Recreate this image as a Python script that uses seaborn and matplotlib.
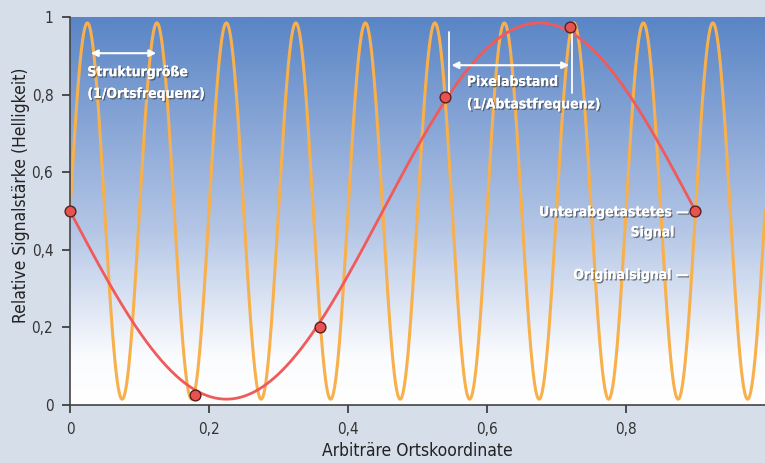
import numpy as np
import matplotlib
matplotlib.use("Agg")
import matplotlib.pyplot as plt
import matplotlib.patheffects as pe
from matplotlib.colors import LinearSegmentedColormap
import seaborn as sns

# Originalsignal: Sinus, 10 Perioden pro Einheit
signal_freq = 10.0
signal_mid = 0.5
signal_amp = 0.485

# Abtastpunkte (Unterabgetastetes Signal)
sample_x = [0.0, 0.18, 0.36, 0.54, 0.72, 0.90]
sample_y = [0.50, 0.025, 0.20, 0.795, 0.975, 0.50]

x_ticks = [0, 0.2, 0.4, 0.6, 0.8]
x_ticklabels = ["0", "0,2", "0,4", "0,6", "0,8"]
y_ticks = [0, 0.2, 0.4, 0.6, 0.8, 1]
y_ticklabels = ["0", "0,2", "0,4", "0,6", "0,8", "1"]

sns.set_style("ticks")
plt.rcParams["font.family"] = ["DejaVu Sans"]
plt.rcParams["font.stretch"] = "condensed"

bg = "#d6dee9"
fig = plt.figure(figsize=(7.65, 4.63), dpi=100, facecolor=bg)
ax = fig.add_axes([0.0915, 0.1253, 0.9085, 0.8377])
ax.set_facecolor("white")

# Hintergrundverlauf blau -> weiss
cmap = LinearSegmentedColormap.from_list("bg", [(0, "#ffffff"), (0.12, "#fbfcfe"), (0.45, "#b4c6e6"), (1.0, "#5a85c6")])
grad = np.linspace(0, 1, 256).reshape(-1, 1)
ax.imshow(grad, extent=[0, 1, 0, 1], origin="lower", aspect="auto", cmap=cmap, zorder=0)

# Originalsignal
xs = np.linspace(0, 1, 2000)
ys = signal_mid + signal_amp * np.sin(2 * np.pi * signal_freq * xs)
sns.lineplot(x=xs, y=ys, ax=ax, color="#f7b04c", lw=2.2, zorder=2)

# Alias-Signal durch die Abtastpunkte
step = sample_x[1] - sample_x[0]
alias_freq = abs(signal_freq - round(signal_freq * step) / step)
xr = np.linspace(sample_x[0], sample_x[-1], 500)
yr = signal_mid - signal_amp * np.sin(2 * np.pi * alias_freq * xr)
sns.lineplot(x=xr, y=yr, ax=ax, color="#f05a5a", lw=2.0, zorder=3)
sns.scatterplot(x=sample_x, y=sample_y, ax=ax, color="#e8524f", edgecolor="#5a2020",
                linewidth=1.0, s=60, zorder=4, clip_on=False)

ax.set_xlim(0, 1)
ax.set_ylim(0, 1)
ax.set_xticks(x_ticks)
ax.set_xticklabels(x_ticklabels)
ax.set_yticks(y_ticks)
ax.set_yticklabels(y_ticklabels)
ax.tick_params(colors="#333333", labelsize=11, length=6, width=1.2, pad=6)
for s in ["top", "right"]:
    ax.spines[s].set_visible(False)
for s in ["left", "bottom"]:
    ax.spines[s].set_color("#444444")
    ax.spines[s].set_linewidth(1.2)

ax.set_xlabel("Arbiträre Ortskoordinate", fontsize=12.5, color="#222222")
ax.set_ylabel("Relative Signalstärke (Helligkeit)", fontsize=12.5, color="#222222")
ax.xaxis.set_label_coords(0.5, -0.095)
ax.yaxis.set_label_coords(-0.057, 0.54)

shadow = [pe.withSimplePatchShadow(offset=(1, -1), shadow_rgbFace="#333333", alpha=0.6), pe.Normal()]
txt = dict(color="white", fontsize=10, fontweight="semibold", path_effects=shadow)

# Strukturgroesse
ax.annotate("", xy=(0.026, 0.907), xytext=(0.128, 0.907),
            arrowprops=dict(arrowstyle="<|-|>", color="white", lw=1.5, mutation_scale=10))
ax.text(0.025, 0.858, "Strukturgröße", ha="left", va="center", **txt)
ax.text(0.025, 0.802, "(1/Ortsfrequenz)", ha="left", va="center", **txt)

# Pixelabstand
ax.plot([0.545, 0.545], [0.804, 0.961], color="white", lw=1.3, zorder=3)
ax.plot([0.722, 0.722], [0.804, 0.961], color="white", lw=1.3, zorder=3)
ax.annotate("", xy=(0.545, 0.876), xytext=(0.722, 0.876),
            arrowprops=dict(arrowstyle="<|-|>", color="white", lw=1.5, mutation_scale=10))
ax.text(0.571, 0.833, "Pixelabstand", ha="left", va="center", **txt)
ax.text(0.571, 0.775, "(1/Abtastfrequenz)", ha="left", va="center", **txt)

# Legende als Beschriftungen
ax.text(0.889, 0.497, "Unterabgetastetes —", ha="right", va="center", **txt)
ax.text(0.869, 0.445, "Signal", ha="right", va="center", **txt)
ax.text(0.888, 0.335, "Originalsignal —", ha="right", va="center", **txt)

fig.savefig("out.png", dpi=100, facecolor=bg)
